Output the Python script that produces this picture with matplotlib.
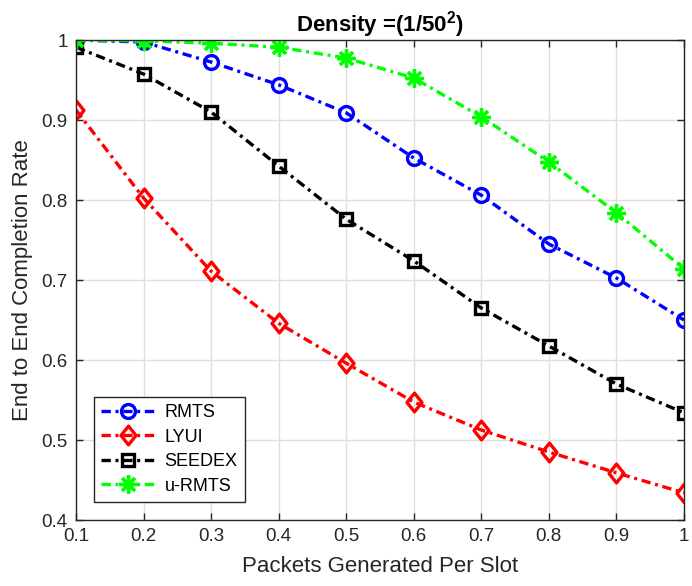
import matplotlib.pyplot as plt
from matplotlib.path import Path

plt.rcParams['font.family'] = ['Liberation Sans', 'DejaVu Sans']
plt.rcParams['mathtext.fontset'] = 'custom'
plt.rcParams['mathtext.rm'] = 'Liberation Sans'
plt.rcParams['mathtext.bf'] = 'Liberation Sans:bold'

x = [0.1, 0.2, 0.3, 0.4, 0.5, 0.6, 0.7, 0.8, 0.9, 1.0]
rmts = [1.0, 0.9975, 0.9725, 0.944, 0.909, 0.8525, 0.806, 0.745, 0.7025, 0.65]
lyui = [0.9125, 0.8025, 0.711, 0.646, 0.596, 0.5475, 0.5125, 0.485, 0.459, 0.434]
seedex = [0.991, 0.9575, 0.91, 0.8425, 0.776, 0.724, 0.665, 0.6175, 0.57, 0.534]
u_rmts = [1.0, 0.999, 0.996, 0.991, 0.9775, 0.9525, 0.904, 0.8475, 0.784, 0.714]

# matlab style diamond, a bit taller than wide
diamond = Path([(0, 1), (0.8, 0), (0, -1), (-0.8, 0), (0, 1)],
               [Path.MOVETO, Path.LINETO, Path.LINETO, Path.LINETO, Path.CLOSEPOLY])

fig = plt.figure(figsize=(6.92, 5.86), dpi=100)
ax = fig.add_axes([0.1098, 0.1126, 0.8786, 0.8191])

kw = dict(linestyle='-.', linewidth=2.4, markeredgewidth=2.4,
          markerfacecolor='none', dashes=(2.8, 1.4, 0.9, 1.4))
ax.plot(x, rmts, color='#0000ff', marker='o', markersize=10, label='RMTS', **kw)
ax.plot(x, lyui, color='#ff0000', marker=diamond, markersize=13.5, label='LYUI', **kw)
ax.plot(x, seedex, color='#000000', marker='s', markersize=8.5, label='SEEDEX', **kw)
ax.plot(x, u_rmts, color='#00ff00', marker=(8, 2, 0), markersize=13,
        label='u-RMTS', **kw)

ax.set_xlim(0.1, 1.0)
ax.set_ylim(0.4, 1.0)
ax.set_xticks(x)
ax.set_xticklabels(['0.1', '0.2', '0.3', '0.4', '0.5', '0.6', '0.7', '0.8', '0.9', '1'])
ax.set_yticks([0.4, 0.5, 0.6, 0.7, 0.8, 0.9, 1.0])
ax.set_yticklabels(['0.4', '0.5', '0.6', '0.7', '0.8', '0.9', '1'])
ax.grid(True, color='#dfdfdf', linewidth=1)
ax.set_axisbelow(True)
ax.tick_params(direction='in', top=True, right=True, labelsize=13.5,
               colors='#262626', length=5, width=1, pad=6)
for s in ax.spines.values():
    s.set_color('#262626')
    s.set_linewidth(1)

ax.set_xlabel('Packets Generated Per Slot', fontsize=16, color='#262626', labelpad=8)
ax.set_ylabel('End to End Completion Rate', fontsize=16, color='#262626', labelpad=6)
ax.set_title('Density =(1/50$\\mathbf{^{2}}$)', fontsize=16, fontweight='bold', pad=6)

leg = ax.legend(loc='lower left', bbox_to_anchor=(0.0296, 0.0375), fontsize=13,
                fancybox=False, edgecolor='#262626', framealpha=1,
                handlelength=3.0, borderpad=0.4, labelspacing=0.42,
                handletextpad=0.5, borderaxespad=0)
leg.get_frame().set_linewidth(1)

fig.savefig('out.png', dpi=100)
